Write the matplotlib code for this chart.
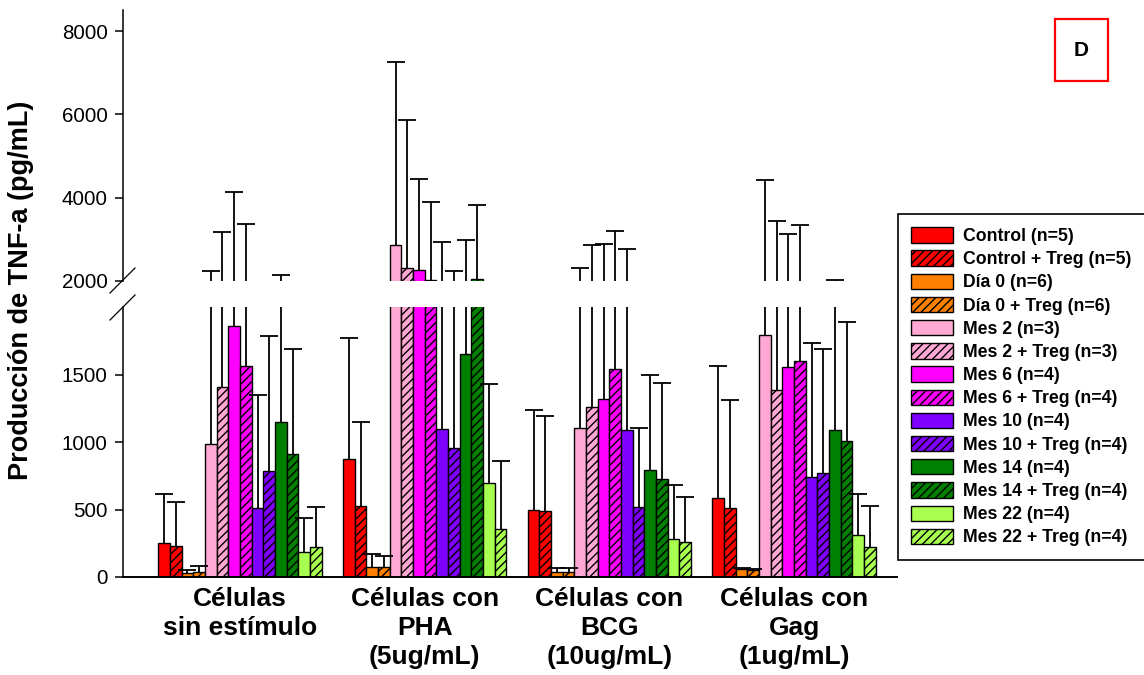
import numpy as np
import matplotlib
matplotlib.use('Agg')
import matplotlib.pyplot as plt
from matplotlib.patches import Patch, Rectangle
from matplotlib.lines import Line2D

plt.rcParams['font.family'] = ['Liberation Sans', 'DejaVu Sans']
plt.rcParams['hatch.linewidth'] = 1.0

groups = ["Células\nsin estímulo", "Células con\nPHA\n(5ug/mL)",
          "Células con\nBCG\n(10ug/mL)", "Células con\nGag\n(1ug/mL)"]
series = ["Control (n=5)", "Control + Treg (n=5)", "Día 0 (n=6)", "Día 0 + Treg (n=6)",
          "Mes 2 (n=3)", "Mes 2 + Treg (n=3)", "Mes 6 (n=4)", "Mes 6 + Treg (n=4)",
          "Mes 10 (n=4)", "Mes 10 + Treg (n=4)", "Mes 14 (n=4)", "Mes 14 + Treg (n=4)",
          "Mes 22 (n=4)", "Mes 22 + Treg (n=4)"]
colors = ["#FF0000", "#FF0000", "#FF8000", "#FF8000", "#FFA8D4", "#FFA8D4",
          "#FF00FF", "#FF00FF", "#8000FF", "#8000FF", "#008000", "#008000",
          "#A8FF50", "#A8FF50"]
hatched = [False, True] * 7

# mean per series, one list per stimulus group
means_sin = [254, 232, 30, 40, 985, 1410, 1859, 1565, 509, 788, 1150, 911, 185, 225]
means_pha = [872, 528, 73, 73, 2864, 2317, 2257, 2020, 1100, 958, 1650, 2040, 697, 358]
means_bcg = [494, 486, 35, 35, 1106, 1262, 1319, 1541, 1089, 521, 793, 723, 279, 262]
means_gag = [588, 509, 59, 52, 1790, 1385, 1553, 1600, 743, 768, 1086, 1010, 311, 220]
# upper error (SD) per series
err_sin = [361, 323, 25, 44, 1262, 1766, 2285, 1803, 841, 999, 994, 780, 250, 294]
err_pha = [898, 622, 101, 83, 4386, 3558, 2185, 1884, 1844, 1282, 1334, 1793, 731, 500]
err_bcg = [743, 707, 29, 29, 1214, 1610, 1569, 1659, 1679, 580, 703, 711, 402, 328]
err_gag = [975, 805, 10, 7, 2635, 2056, 1575, 1745, 993, 921, 938, 877, 302, 306]

upper_ticks = [2000, 4000, 6000, 8000]
lower_ticks = [0, 500, 1000, 1500]

means = np.array([means_sin, means_pha, means_bcg, means_gag]).T  # series x groups
errs = np.array([err_sin, err_pha, err_bcg, err_gag]).T

W, H = 1144, 675
fig = plt.figure(figsize=(W / 100, H / 100), dpi=100)
left = 123 / W
width = (897 - 123) / W
ax_low = fig.add_axes([left, 1 - 577 / H, width, 270 / H])
ax_up = fig.add_axes([left, 1 - 281 / H, width, 271 / H])

x = np.arange(1, len(groups) + 1)
n = len(series)
bw = 0.0632
offsets = (np.arange(n) - (n - 1) / 2) * bw

for ax in (ax_low, ax_up):
    for i in range(n):
        xs = x + offsets[i]
        ax.bar(xs, means[i], width=bw, color=colors[i], edgecolor='black',
               linewidth=1.0, hatch='////' if hatched[i] else None, zorder=2)
        ax.errorbar(xs, means[i], yerr=[np.zeros(len(x)), errs[i]], fmt='none',
                    ecolor='black', elinewidth=1.3, capsize=0, zorder=3)
        ax.plot(xs, means[i] + errs[i], ls='none', marker='_', ms=12.5, mew=1.3,
                color='black', zorder=3)
    ax.set_xlim(0.3665, 4.557)
    for s in ('top', 'right'):
        ax.spines[s].set_visible(False)
    ax.spines['left'].set_linewidth(1.1)
    ax.tick_params(axis='y', direction='out', length=6, width=1.1, pad=5, labelsize=14.8)

ax_low.set_ylim(0, 2000)
ax_low.set_yticks(lower_ticks)
ax_low.spines['bottom'].set_linewidth(1.4)
ax_low.set_xticks(x)
ax_low.set_xticklabels(groups, fontsize=19, fontweight='bold', linespacing=1.27)
ax_low.tick_params(axis='x', length=0, pad=7)

ax_up.set_ylim(2000, 8505)
ax_up.set_yticks(upper_ticks)
ax_up.spines['bottom'].set_visible(False)
ax_up.tick_params(axis='x', bottom=False, labelbottom=False)

# break marks
for (x0, y0, x1, y1) in [(110, 293, 135, 268), (110, 320, 135, 295)]:
    fig.add_artist(Line2D([x0 / W, x1 / W], [1 - y0 / H, 1 - y1 / H],
                          transform=fig.transFigure, color='black', lw=0.9))

fig.text(21 / W, 1 - 290 / H, "Producción de TNF-a (pg/mL)", rotation=90,
         ha='center', va='center', fontsize=19.5, fontweight='bold')

# panel letter
fig.add_artist(Rectangle((1055 / W, 1 - 81 / H), 53 / W, 62 / H, transform=fig.transFigure,
                         facecolor='white', edgecolor='red', lw=1.6))
fig.text(1081.5 / W, 1 - 50 / H, "D", ha='center', va='center', fontsize=15, fontweight='bold')

handles = [Patch(facecolor=colors[i], edgecolor='black', linewidth=1.0,
                 hatch='////' if hatched[i] else None) for i in range(n)]
leg = fig.legend(handles, series, loc='upper left', bbox_to_anchor=(898 / W, 1 - 214 / H),
                 prop=dict(weight='bold', size=12.7), frameon=True, fancybox=False,
                 edgecolor='black', framealpha=1, handlelength=2.37, handleheight=0.96,
                 handletextpad=0.56, labelspacing=0.31, borderpad=0.75, borderaxespad=0)
leg.get_frame().set_linewidth(1.2)

fig.savefig('out.png', dpi=100)
